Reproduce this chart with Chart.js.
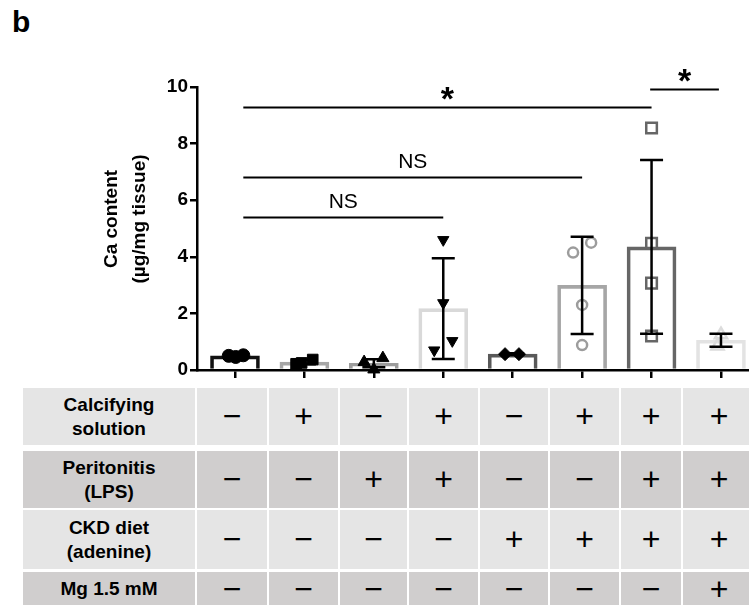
<!DOCTYPE html>
<html>
<head>
<meta charset="utf-8">
<script src="https://cdn.jsdelivr.net/npm/chart.js@4.4.1/dist/chart.umd.min.js"></script>
<style>
  html, body { margin:0; padding:0; background:#fff; overflow:hidden; }
  #page { position:relative; width:749px; height:605px; overflow:hidden; font-family:"Liberation Sans", Arial, sans-serif; color:#000; }
  #panel { position:absolute; left:12px; top:7px; font-size:30px; font-weight:bold; line-height:1; }
  #plot { position:absolute; left:0; top:0; }
  #cond { position:absolute; left:23px; top:388px; display:grid;
          grid-template-columns:172px 70px 69px 67px 69px 68px 69px 60px 72px;
          grid-template-rows:57px 6px 57px 2px 59px 3px 34px; column-gap:2px; }
  #cond div { display:flex; align-items:center; justify-content:center; text-align:center; }
  .lab { font-weight:bold; font-size:19px; line-height:24px; }
  .sgn { font-size:32px; }
</style>
</head>
<body>
<div id="page">
  <div id="panel">b</div>
  <canvas id="plot" width="770" height="385"></canvas>
  <div id="cond"></div>
</div>
<script>
// --- Données ---
const groupIdx = [0, 1, 2, 3, 4, 5, 6, 7];
const means = [0.5, 0.28, 0.24, 2.17, 0.56, 2.99, 4.35, 1.05];
const sds = [0.04, 0.08, 0.14, 1.78, 0.03, 1.72, 3.07, 0.23];
const points = [
  [0.5, 0.46, 0.52],
  [0.22, 0.25, 0.37],
  [0.28, 0.02, 0.42],
  [4.6, 2.37, 1.03, 0.7],
  [0.56, 0.56],
  [4.15, 4.5, 2.3, 0.88],
  [8.55, 4.48, 3.07, 1.2],
  [1.25, 0.85]
];
// décalage horizontal des points (en unités de groupe)
const jitter = [
  [-0.09, 0.01, 0.12],
  [-0.12, -0.04, 0.12],
  [-0.14, 0, 0.13],
  [0, 0, 0.13, -0.13],
  [-0.11, 0.09],
  [-0.13, 0.13, 0, 0],
  [0, 0, 0, 0],
  [0, -0.05]
];
const yTicks = [0, 2, 4, 6, 8, 10];

// comparaisons
const sigFrom = [0.12, 0.12, 0.12, 5.98];
const sigTo = [3, 5, 6, 6.97];
const sigY = [5.41, 6.83, 9.3, 9.93];
const sigText = ['NS', 'NS', '*', '*'];

// tableau des conditions
const condLabels = [['Calcifying', 'solution'], ['Peritonitis', '(LPS)'], ['CKD diet', '(adenine)'], ['Mg 1.5 mM']];
const conds = ['-+-+-+++', '--++--++', '----++++', '-------+'];

// --- Styles ---
const barColors = ['#111111', '#a6a6a6', '#9c9c9c', '#d9d9d9', '#595959', '#a6a6a6', '#666666', '#e3e3e3'];
const markStyle = ['circle', 'rect', 'triangle', 'triangle', 'rectRot', 'circle', 'rect', 'triangle'];
const markRot = [0, 0, 0, 180, 0, 0, 0, 0];
const markColor = ['#000', '#000', '#000', '#000', '#000', '#9c9c9c', '#666666', '#dcdcdc'];
const markFilled = [true, true, true, true, true, false, false, false];
const markRadius = [6.5, 7.5, 7, 6.5, 6.5, 5, 7.5, 7];
const rowColors = ['#e5e5e5', '#d0cece', '#e5e5e5', '#d0cece'];

// --- Tableau HTML ---
const cond = document.getElementById('cond');
condLabels.forEach((lab, r) => {
  const row = 2 * r + 1;
  const c = document.createElement('div');
  c.className = 'lab';
  c.style.gridRow = row; c.style.gridColumn = 1;
  c.style.background = rowColors[r];
  c.innerHTML = lab.join('<br>');
  cond.appendChild(c);
  conds[r].split('').forEach((s, k) => {
    const d = document.createElement('div');
    d.className = 'sgn';
    d.style.gridRow = row; d.style.gridColumn = k + 2;
    d.style.background = rowColors[r];
    d.textContent = s === '+' ? '+' : '\u2212';
    cond.appendChild(d);
  });
});

// --- Barres d'erreur, comparaisons, titre Y ---
const extras = {
  id: 'extras',
  afterDatasetsDraw(chart) {
    const {ctx, scales: {x, y}} = chart;
    ctx.save();
    ctx.strokeStyle = '#000';
    ctx.lineWidth = 2.5;
    means.forEach((m, i) => {
      const cx = x.getPixelForValue(groupIdx[i]);
      const top = y.getPixelForValue(m + sds[i]);
      const bot = y.getPixelForValue(Math.max(m - sds[i], 0));
      ctx.beginPath();
      ctx.moveTo(cx, top); ctx.lineTo(cx, bot);
      ctx.moveTo(cx - 11.5, top); ctx.lineTo(cx + 11.5, top);
      ctx.moveTo(cx - 11.5, bot); ctx.lineTo(cx + 11.5, bot);
      ctx.stroke();
    });
    ctx.restore();
  },
  afterDraw(chart) {
    const {ctx, scales: {x, y}} = chart;
    ctx.save();
    ctx.strokeStyle = '#000';
    ctx.fillStyle = '#000';
    ctx.lineWidth = 2;
    ctx.textAlign = 'center';
    ctx.textBaseline = 'alphabetic';
    sigY.forEach((v, i) => {
      const x1 = x.getPixelForValue(sigFrom[i]);
      const x2 = x.getPixelForValue(sigTo[i]);
      const py = Math.round(y.getPixelForValue(v)) + 0.5;
      ctx.beginPath(); ctx.moveTo(x1, py); ctx.lineTo(x2, py); ctx.stroke();
      if (sigText[i] === '*') {
        ctx.font = 'bold 34px "Liberation Sans", Arial, sans-serif';
        ctx.fillText(sigText[i], (x1 + x2) / 2, py + 2);
      } else {
        ctx.font = '21px "Liberation Sans", Arial, sans-serif';
        ctx.fillText(sigText[i], (x1 + x2) / 2, py - 10);
      }
    });
    // titre axe Y
    ctx.font = 'bold 19px "Liberation Sans", Arial, sans-serif';
    ctx.textBaseline = 'middle';
    [['Ca content', 112], ['(µg/mg tissue)', 140]].forEach(([t, px]) => {
      ctx.save();
      ctx.translate(px, 219);
      ctx.rotate(-Math.PI / 2);
      ctx.fillText(t, 0, 0);
      ctx.restore();
    });
    ctx.restore();
  }
};

const datasets = [{
  type: 'bar',
  data: means.map((m, i) => ({x: groupIdx[i], y: m})),
  backgroundColor: 'rgba(255,255,255,0)',
  borderColor: barColors,
  borderWidth: 3,
  borderSkipped: 'start',
  barThickness: 49,
  order: 2
}];
points.forEach((vals, g) => {
  datasets.push({
    type: 'scatter',
    data: vals.map((v, k) => ({x: groupIdx[g] + jitter[g][k], y: v})),
    pointStyle: markStyle[g],
    rotation: markRot[g],
    pointRadius: markRadius[g],
    backgroundColor: markFilled[g] ? markColor[g] : 'rgba(255,255,255,0)',
    borderColor: markColor[g],
    borderWidth: markFilled[g] ? 1 : 2.5,
    clip: false,
    order: 1
  });
});

new Chart(document.getElementById('plot').getContext('2d'), {
  type: 'bar',
  data: { datasets: datasets },
  options: {
    responsive: false,
    animation: false,
    devicePixelRatio: 1,
    layout: { padding: { top: 87, right: 15, bottom: 0, left: 0 } },
    plugins: { legend: { display: false }, tooltip: { enabled: false } },
    scales: {
      x: {
        type: 'linear',
        offset: false,
        min: -0.547, max: 7.49,
        afterBuildTicks: s => { s.ticks = groupIdx.map(v => ({value: v})); },
        afterFit: s => { s.height = 15; },
        ticks: { display: false },
        grid: { offset: false, drawOnChartArea: false, drawTicks: true, tickLength: 8, color: '#000', lineWidth: 2.5 },
        border: { display: true, color: '#000', width: 2.5 }
      },
      y: {
        min: 0, max: 10,
        afterBuildTicks: s => { s.ticks = yTicks.map(v => ({value: v})); },
        afterFit: s => { s.width = 197; },
        ticks: { color: '#000', padding: 2, font: { family: '"Liberation Sans", Arial, sans-serif', size: 19, weight: 'bold' } },
        grid: { drawOnChartArea: false, drawTicks: true, tickLength: 7, color: '#000', lineWidth: 2.5 },
        border: { display: true, color: '#000', width: 2.5 }
      }
    }
  },
  plugins: [extras]
});
</script>
</body>
</html>
